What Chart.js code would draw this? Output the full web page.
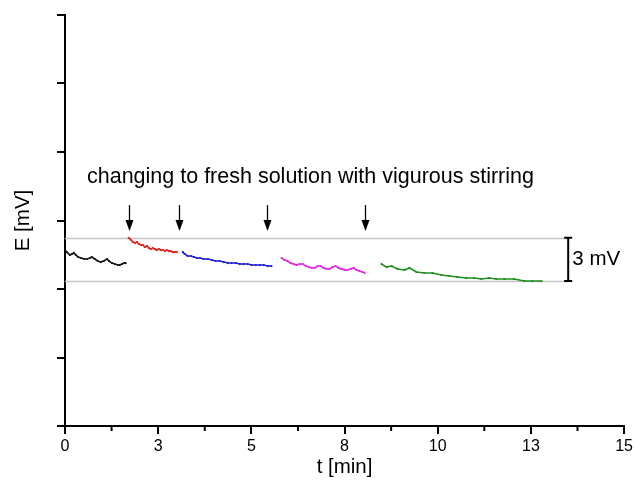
<!DOCTYPE html>
<html><head><meta charset="utf-8">
<script src="https://cdn.jsdelivr.net/npm/chart.js@4/dist/chart.umd.min.js"></script>
<style>html,body{margin:0;padding:0;background:#fff}</style>
</head><body>
<canvas id="c" width="636" height="491"></canvas>
<script>
// time [min]
const tBlack = [0.00,0.05,0.13,0.19,0.24,0.29,0.35,0.43,0.51,0.59,0.67,0.72,0.80,0.88,0.96,1.04,1.13,1.18,1.26,1.34,1.42,1.47,1.53,1.58,1.63];
const eBlack = [12.20,12.06,11.86,11.93,12.00,11.86,11.72,11.65,11.58,11.58,11.65,11.72,11.58,11.44,11.37,11.44,11.58,11.44,11.30,11.23,11.16,11.16,11.23,11.30,11.30];
const tRed = [1.71,1.77,1.82,1.88,1.93,1.98,2.04,2.09,2.14,2.20,2.25,2.30,2.36,2.41,2.46,2.52,2.57,2.63,2.68,2.73,2.79,2.84,2.89,2.95,3.00];
const eRed = [13.04,12.90,12.76,12.69,12.76,12.62,12.55,12.55,12.41,12.48,12.34,12.27,12.34,12.27,12.20,12.27,12.20,12.20,12.13,12.20,12.13,12.13,12.06,12.06,12.06];
const tBlue = [3.16,3.21,3.29,3.38,3.46,3.54,3.62,3.72,3.83,3.94,4.04,4.15,4.26,4.37,4.47,4.58,4.69,4.79,4.90,5.01,5.12,5.22,5.33,5.44,5.54];
const eBlue = [12.06,11.93,11.79,11.79,11.72,11.65,11.65,11.58,11.58,11.51,11.44,11.44,11.37,11.30,11.30,11.30,11.23,11.23,11.23,11.16,11.16,11.16,11.16,11.09,11.09];
const tPink = [5.81,5.89,5.97,6.05,6.13,6.21,6.29,6.38,6.46,6.54,6.62,6.70,6.78,6.86,6.94,7.02,7.10,7.18,7.26,7.34,7.42,7.50,7.58,7.66,7.74,7.82,7.90,7.98,8.04];
const ePink = [11.65,11.51,11.44,11.30,11.23,11.16,11.23,11.23,11.09,11.02,10.96,10.96,11.09,11.09,10.96,10.89,10.89,11.02,11.09,10.96,10.89,10.82,10.82,10.89,10.96,10.82,10.75,10.68,10.61];
const tGreen = [8.49,8.63,8.76,8.92,9.11,9.24,9.43,9.64,9.86,10.10,10.31,10.53,10.77,10.98,11.17,11.38,11.57,11.79,12.05,12.32,12.54,12.78];
const eGreen = [11.23,11.02,11.09,10.89,10.82,10.96,10.68,10.61,10.61,10.47,10.40,10.33,10.26,10.26,10.19,10.26,10.19,10.19,10.19,10.05,10.05,10.05];

// annotations
const arrowTimes = [1.71, 3.05, 5.41, 8.04];
const arrowTop = 15.32, arrowTip = 13.52;
const refLevels = [13.05, 10.05];
const barTime = 13.50;
const barLabel = '3 mV';
const noteText = 'changing to fresh solution with vigurous stirring';
const noteTime = 0.59, noteE = 16.85;
const barLabelTime = 13.61, barLabelE = 11.16;

// axes
const xMin = 0, xMax = 15, xStep = 2.5;
const yMin = 0, yMax = 28.5, yStep = 4.75;

const FONT = "'Liberation Sans', Arial, sans-serif";
const zip = (t, e) => t.map((v, i) => ({x: v, y: e[i]}));

const series = [
  {d: zip(tBlack, eBlack), c: '#1a1a1a'},
  {d: zip(tRed, eRed), c: '#e8231e'},
  {d: zip(tBlue, eBlue), c: '#2020d8'},
  {d: zip(tPink, ePink), c: '#e629e6'},
  {d: zip(tGreen, eGreen), c: '#1f8f1f'}
];

const annot = {
  id: 'annot',
  beforeDatasetsDraw(chart) {
    const {ctx, scales: {x, y}} = chart;
    ctx.save();
    ctx.strokeStyle = '#c4c4c4';
    ctx.lineWidth = 1.5;
    refLevels.forEach(v => {
      const py = Math.round(y.getPixelForValue(v)) + 0.5;
      ctx.beginPath();
      ctx.moveTo(x.getPixelForValue(0), py);
      ctx.lineTo(x.getPixelForValue(barTime), py);
      ctx.stroke();
    });
    ctx.restore();
  },
  afterDatasetsDraw(chart) {
    const {ctx, scales: {x, y}} = chart;
    ctx.save();
    // minor ticks
    ctx.strokeStyle = '#000';
    ctx.lineWidth = 2;
    const yb = y.getPixelForValue(yMin);
    for (let v = xMin + xStep / 2; v < xMax; v += xStep) {
      const px = x.getPixelForValue(v);
      ctx.beginPath(); ctx.moveTo(px, yb); ctx.lineTo(px, yb + 5); ctx.stroke();
    }
    // arrows
    ctx.fillStyle = '#000';
    ctx.lineWidth = 1.3;
    arrowTimes.forEach(t => {
      const px = Math.round(x.getPixelForValue(t)) + 0.5;
      const top = y.getPixelForValue(arrowTop), tip = y.getPixelForValue(arrowTip);
      ctx.beginPath(); ctx.moveTo(px, top); ctx.lineTo(px, tip - 9); ctx.stroke();
      ctx.beginPath(); ctx.moveTo(px - 4, tip - 11); ctx.lineTo(px + 4, tip - 11); ctx.lineTo(px, tip); ctx.closePath(); ctx.fill();
    });
    // 3 mV bar
    const bx = x.getPixelForValue(barTime);
    const b1 = y.getPixelForValue(refLevels[0]), b2 = y.getPixelForValue(refLevels[1]);
    ctx.lineWidth = 2;
    ctx.beginPath();
    ctx.moveTo(bx, b1); ctx.lineTo(bx, b2);
    ctx.moveTo(bx - 4, b1); ctx.lineTo(bx + 4, b1);
    ctx.moveTo(bx - 4, b2); ctx.lineTo(bx + 4, b2);
    ctx.stroke();
    // texts
    ctx.font = '20.5px ' + FONT;
    ctx.textBaseline = 'alphabetic';
    ctx.textAlign = 'left';
    ctx.fillText(barLabel, x.getPixelForValue(barLabelTime), y.getPixelForValue(barLabelE));
    ctx.font = '21.5px ' + FONT;
    ctx.fillText(noteText, x.getPixelForValue(noteTime), y.getPixelForValue(noteE));
    ctx.restore();
  }
};

new Chart(document.getElementById('c'), {
  type: 'line',
  data: {
    datasets: series.map(s => ({
      data: s.d, borderColor: s.c, backgroundColor: s.c,
      borderWidth: 1.6, pointRadius: 1.1, pointBorderWidth: 0, tension: 0, fill: false
    }))
  },
  options: {
    responsive: false, animation: false,
    layout: {padding: {top: 15, right: 11, left: 0, bottom: 0}},
    plugins: {legend: {display: false}, tooltip: {enabled: false}},
    scales: {
      x: {
        type: 'linear', min: xMin, max: xMax,
        afterFit(s) { s.height = 65; },
        ticks: {stepSize: xStep, color: '#000', font: {family: FONT, size: 16}, padding: 3,
          maxRotation: 0, autoSkip: false, callback: v => String(Math.round(v))},
        grid: {drawOnChartArea: false, drawTicks: true, tickLength: 8, color: '#000', lineWidth: 2},
        border: {display: true, color: '#000', width: 2},
        title: {display: true, text: 't [min]', color: '#000', font: {family: FONT, size: 20.5}, padding: {top: 0, bottom: 11}}
      },
      y: {
        type: 'linear', min: yMin, max: yMax,
        afterFit(s) { s.width = 65; },
        ticks: {stepSize: yStep, display: true, callback: () => ''},
        grid: {drawOnChartArea: false, drawTicks: true, tickLength: 8, color: '#000', lineWidth: 2},
        border: {display: true, color: '#000', width: 2},
        title: {display: true, text: 'E [mV]', color: '#000', font: {family: FONT, size: 20.5}, padding: {top: 11, bottom: 0}}
      }
    }
  },
  plugins: [annot]
});
</script>
</body></html>
